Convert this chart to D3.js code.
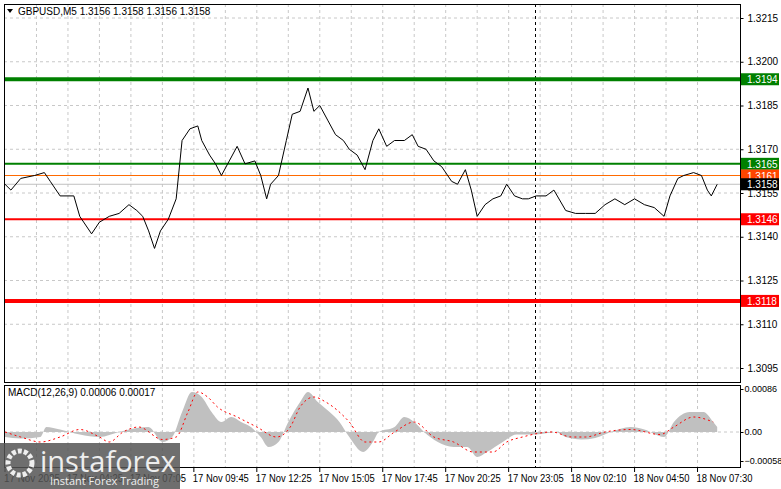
<!DOCTYPE html>
<html><head><meta charset="utf-8">
<script src="https://cdnjs.cloudflare.com/ajax/libs/d3/7.8.5/d3.min.js"></script>
<style>body{margin:0;background:#fff}svg{display:block;font-family:"Liberation Sans",Arial,sans-serif}</style>
</head><body><div id="chart"></div>
<script>
// price samples: bar index (5-min bars) and close
var priceBars = [0,3,8,15,20,23,28,35,38,44,48,53,58,63,67,70,73,76,79,83,87,90,94,98,100,104,107,110,114,118,122,127,130,133,135,139,143,146,150,154,157,160,164,168,172,175,179,183,187,190,194,198,203,207,210,214,218,222,227,230,234,237,240,244,248,252,255,259,263,266,270,275,279,285,290,295,300,305,310,315,320,325,330,335,338,342,345,350,354,357,359,362];
var priceVals = [1.3158,1.3156,1.3160,1.3161,1.3162,1.3159,1.3154,1.3154,1.3147,1.3141,1.3145,1.3147,1.3148,1.3151,1.3149,1.3147,1.3142,1.3136,1.3142,1.3146,1.3153,1.3173,1.3177,1.3178,1.3173,1.3168,1.3165,1.3161,1.3166,1.3171,1.3165,1.3166,1.3161,1.3153,1.3158,1.3161,1.3173,1.3182,1.3183,1.3191,1.3183,1.3185,1.3180,1.3175,1.3173,1.3170,1.3168,1.3163,1.3173,1.3177,1.3171,1.3173,1.3173,1.3175,1.3171,1.3170,1.3166,1.3164,1.3159,1.3158,1.3163,1.3156,1.3147,1.3151,1.3153,1.3154,1.3158,1.3154,1.3153,1.3153,1.3154,1.3154,1.3156,1.3149,1.3148,1.3148,1.3148,1.3151,1.3153,1.3151,1.3153,1.3151,1.3150,1.3147,1.3154,1.3160,1.3161,1.3162,1.3161,1.3156,1.3154,1.3158];

var histBars = [0,8,18,21,28,38,48,58,64,73,80,85,90,95,100,105,110,115,120,125,130,134,139,144,150,154,159,165,170,175,182,187,190,198,203,208,213,220,228,235,240,245,253,260,270,280,285,293,300,308,318,325,335,340,348,355,360,362];
var histVals = [-0.0001,-0.00013,-0.0001,0.0001,0.00005,-0.00005,-0.0001,0.0,0.00006,0.0001,-0.0002,-0.0001,0.0004,0.0008,0.0007,0.0004,0.0002,0.0003,0.0002,0.0001,-0.0001,-0.0003,-0.0002,0.0002,0.0006,0.0008,0.0006,0.0004,0.0002,-0.0001,-0.0004,-0.0002,0.0,0.0001,0.0003,0.0002,0.0,-0.0002,-0.0003,-0.0003,-0.0005,-0.0004,-0.0002,-0.00005,-0.00005,0.0,-0.0001,-0.00015,-0.00012,0.0,0.0001,0.00005,-0.0001,0.0002,0.0004,0.0004,0.0002,0.0001];
var sigBars = [0,8,18,28,38,48,53,60,68,80,87,93,98,103,108,118,128,138,145,150,157,163,175,183,190,198,208,218,228,238,248,255,263,278,288,295,305,318,333,340,350,360];
var sigVals = [0.0,-0.0001,-0.0002,-0.0001,0.00005,-0.0001,-0.0002,0.0,0.0001,-0.00015,-0.0001,0.0004,0.0008,0.0007,0.0005,0.0003,0.0001,-0.0001,0.0001,0.0005,0.0007,0.0006,0.0002,-0.0002,-0.0002,0.0,0.0002,-0.0001,-0.0002,-0.0004,-0.0004,-0.0002,-0.0001,0.0,-0.0001,-0.0001,0.0,0.00005,-0.00005,0.0001,0.0003,0.0002];

var priceTicks = [1.3215,1.3200,1.3185,1.3170,1.3155,1.3140,1.3125,1.3110,1.3095];
var timeLabels = ["17 Nov 2025","17 Nov 04:25","17 Nov 07:05","17 Nov 09:45","17 Nov 12:25","17 Nov 15:05","17 Nov 17:45","17 Nov 20:25","17 Nov 23:05","18 Nov 02:10","18 Nov 04:50","18 Nov 07:30"];
var levels = [
  {v:1.3194, c:"#008000", w:4, label:"1.3194", bg:"#008000"},
  {v:1.3165, c:"#008000", w:2, label:"1.3165", bg:"#008000"},
  {v:1.3161, c:"#ff6a00", w:1, label:"1.3161", bg:"#ff4500"},
  {v:1.3146, c:"#ff0000", w:2, label:"1.3146", bg:"#ff0000"},
  {v:1.3118, c:"#ff0000", w:4, label:"1.3118", bg:"#ff0000"}
];
var lastPrice = 1.3158;

var W = 781, H = 489, L = 4, R = 740;
var FS = 10;
var svg = d3.select("#chart").append("svg").attr("width", W).attr("height", H);
var x = d3.scaleLinear().domain([0, 368]).range([L + 1, R - 11]);
var y = d3.scaleLinear().domain([1.3095, 1.3215]).range([368, 18]);
var ym = d3.scaleLinear().domain([-0.00058, 0.00086]).range([461, 389]);
var dash = "3,3";

// grids
svg.append("g").selectAll("line").data(priceTicks).enter().append("line")
  .attr("x1", L).attr("x2", R).attr("y1", d => y(d)).attr("y2", d => y(d))
  .attr("stroke", "#c8c8c8").attr("stroke-dasharray", dash);
var gridX = d3.range(16, 368, 16);
svg.append("g").selectAll("line").data(gridX).enter().append("line")
  .attr("x1", d => x(d)).attr("x2", d => x(d)).attr("y1", 4).attr("y2", 468)
  .attr("stroke", "#c8c8c8").attr("stroke-dasharray", dash);
svg.append("line").attr("x1", L).attr("x2", R).attr("y1", ym(0)).attr("y2", ym(0))
  .attr("stroke", "#c8c8c8").attr("stroke-dasharray", dash);
// period separator
svg.append("line").attr("x1", 535.5).attr("x2", 535.5).attr("y1", 4).attr("y2", 468)
  .attr("stroke", "#000").attr("stroke-dasharray", "3,3");

// levels
svg.append("line").attr("x1", L).attr("x2", R).attr("y1", y(lastPrice)).attr("y2", y(lastPrice)).attr("stroke", "#c0c0c0");
svg.append("g").selectAll("line").data(levels).enter().append("line")
  .attr("x1", L).attr("x2", R).attr("y1", d => y(d.v)).attr("y2", d => y(d.v))
  .attr("stroke", d => d.c).attr("stroke-width", d => d.w);

// price line
svg.append("path").datum(priceBars.map((b, i) => [b, priceVals[i]]))
  .attr("fill", "none").attr("stroke", "#000").attr("stroke-width", 1)
  .attr("d", d3.line().x(d => x(d[0])).y(d => y(d[1])));

// MACD histogram
svg.append("path").datum(histBars.map((b, i) => [b, histVals[i]]))
  .attr("fill", "#c0c0c0")
  .attr("d", d3.area().curve(d3.curveMonotoneX).x(d => x(d[0])).y0(ym(0)).y1(d => ym(d[1])));
svg.append("path").datum(sigBars.map((b, i) => [b, sigVals[i]]))
  .attr("fill", "none").attr("stroke", "#ff0000").attr("stroke-dasharray", "2,3")
  .attr("d", d3.line().curve(d3.curveMonotoneX).x(d => x(d[0])).y(d => ym(d[1])));

// panel borders
svg.append("rect").attr("x", L + 0.5).attr("y", 4.5).attr("width", R - L).attr("height", 378).attr("fill", "none").attr("stroke", "#000");
svg.append("rect").attr("x", L + 0.5).attr("y", 385.5).attr("width", R - L).attr("height", 82).attr("fill", "none").attr("stroke", "#000");

// right axis
var ra = svg.append("g").attr("transform", "translate(" + (R + 0.5) + ",0)")
  .call(d3.axisRight(y).tickValues(priceTicks).tickFormat(d3.format(".4f")).tickSize(3).tickPadding(4));
var rm = svg.append("g").attr("transform", "translate(" + (R + 0.5) + ",0)")
  .call(d3.axisRight(ym).tickValues([0.00086, 0, -0.00058]).tickFormat(d => d === 0 ? "0.00" : d3.format(".5f")(d)).tickSize(3).tickPadding(1));
[ra, rm].forEach(g => { g.select(".domain").remove(); g.selectAll("text").attr("font-size", FS).attr("fill", "#000").attr("font-family", "'Liberation Sans',Arial,sans-serif"); });
rm.selectAll("text").attr("font-size", 9);

// level labels
var allLabels = levels.concat([{v: lastPrice, label: "1.3158", bg: "#000"}]);
var lg = svg.append("g").selectAll("g").data(allLabels).enter().append("g")
  .attr("transform", d => "translate(741," + y(d.v) + ")");
lg.append("rect").attr("x", 0).attr("y", -6).attr("width", 38).attr("height", 12).attr("fill", d => d.bg);
lg.append("text").attr("x", 6).attr("y", 4).attr("font-size", FS).attr("fill", "#fff").text(d => d.label);

// time labels
svg.append("g").selectAll("text").data(timeLabels).enter().append("text")
  .attr("x", (d, i) => x(i * 32) - 1).attr("y", 482).attr("font-size", FS)
  .attr("textLength", 56).attr("lengthAdjust", "spacingAndGlyphs").attr("fill", "#000").text(d => d);
svg.append("g").selectAll("line").data(timeLabels).enter().append("line")
  .attr("x1", (d, i) => x(i * 32)).attr("x2", (d, i) => x(i * 32)).attr("y1", 468).attr("y2", 472).attr("stroke", "#000");

// headers
svg.append("path").attr("d", "M7,9 L13,9 L10,13 Z").attr("fill", "#000");
svg.append("text").attr("x", 18).attr("y", 15).attr("font-size", FS).text("GBPUSD,M5  1.3156 1.3158 1.3156 1.3158");
svg.append("text").attr("x", 8).attr("y", 396).attr("font-size", FS).text("MACD(12,26,9) 0.00006 0.00017");

// watermark
var wm = svg.append("g");
wm.append("rect").attr("x", 0).attr("y", 443).attr("width", 180).attr("height", 46).attr("fill", "#555").attr("opacity", 0.85);
wm.append("circle").attr("cx", 20).attr("cy", 463).attr("r", 12).attr("fill", "none").attr("stroke", "#eee").attr("stroke-width", 5).attr("stroke-dasharray", "4,2");
wm.append("text").attr("x", 40).attr("y", 472).attr("font-size", 29).attr("fill", "#eee").attr("font-family", "'Open Sans',sans-serif").text("instaforex");
wm.append("text").attr("x", 50).attr("y", 485).attr("font-size", 11).attr("fill", "#eee").attr("font-family", "'Open Sans',sans-serif").text("Instant Forex Trading");
</script></body></html>
